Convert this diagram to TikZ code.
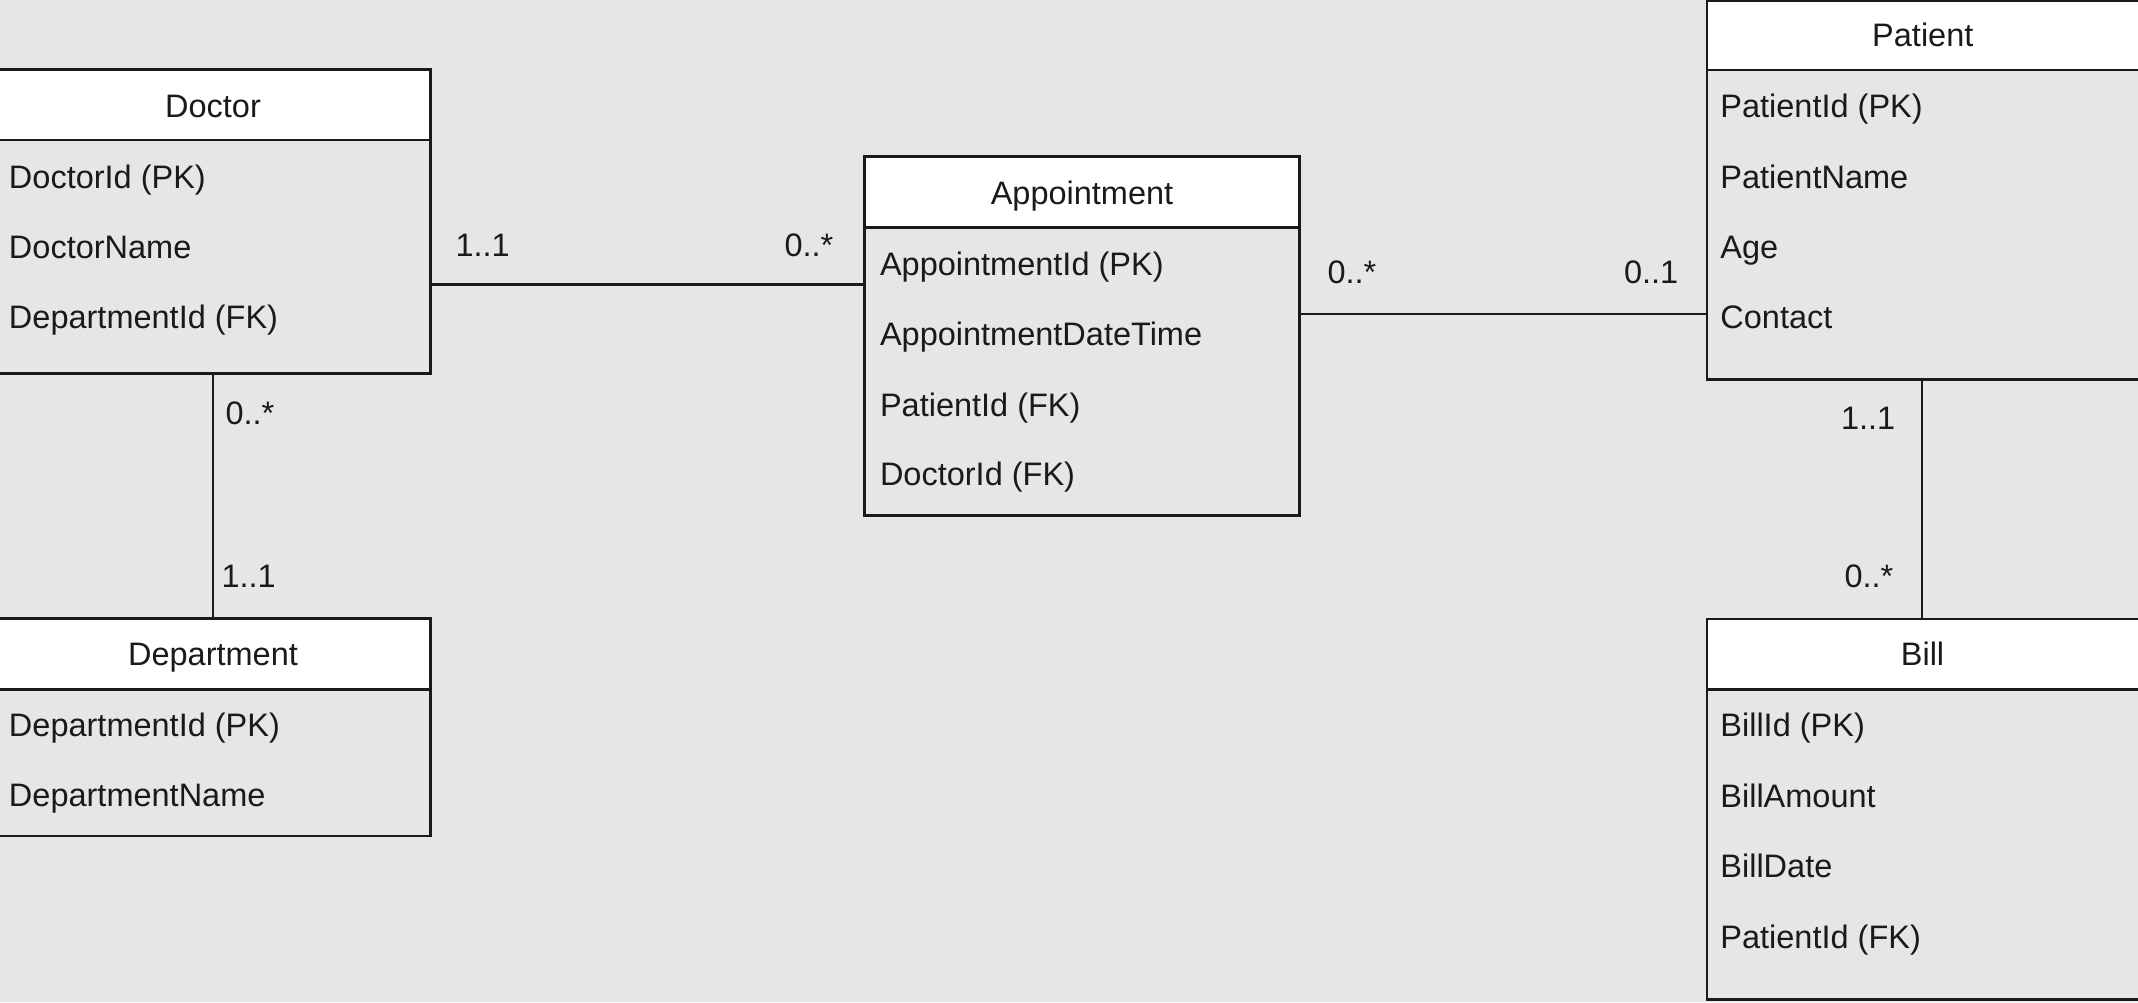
\documentclass[tikz,border=0pt]{standalone}
\usepackage{fontspec}
\setmainfont{Liberation Sans}
\definecolor{bg}{HTML}{E6E6E6}
\definecolor{ink}{HTML}{1A1A1A}
\begin{document}
\begin{tikzpicture}[x=1pt,y=-1pt,
  tbl/.style={draw=ink,line width=2.7pt,rectangle,inner sep=0pt,outer sep=0pt,anchor=north west,minimum width=435pt},
  hdr/.style={tbl,fill=white},
  txt/.style={inner sep=0pt,outer sep=0pt,anchor=base west,text=ink,font=\fontsize{32.5}{39}\selectfont},
  ttl/.style={txt,anchor=base},
  conn/.style={draw=ink,line width=2.7pt}]
\fill[bg] (0,0) rectangle (2138,1002);
\useasboundingbox (0,0) rectangle (2138,1002);

% Doctor
\node[tbl,minimum height=304pt] (doc) at (-4.5,69.3) {};
\node[hdr,minimum height=70.7pt] (docH) at (-4.5,69.3) {};
\node[ttl] (docT) at (213,117.5) {Doctor};
\node[txt] (doc1) at (9,188.3) {DoctorId (PK)};
\node[txt] (doc2) at (9,258.3) {DoctorName};
\node[txt] (doc3) at (9,328.3) {DepartmentId (FK)};

% Department
\node[tbl,minimum height=217.7pt] (dep) at (-4.5,618.3) {};
\node[hdr,minimum height=71pt] (depH) at (-4.5,618.3) {};
\node[ttl] (depT) at (213,665.7) {Department};
\node[txt] (dep1) at (9,736.7) {DepartmentId (PK)};
\node[txt] (dep2) at (9,806.7) {DepartmentName};

% Appointment
\node[tbl,minimum height=358.9pt] (ap) at (864.5,156.7) {};
\node[hdr,minimum height=71pt] (apH) at (864.5,156.7) {};
\node[ttl] (apT) at (1082,204) {Appointment};
\node[txt] (ap1) at (880,275) {AppointmentId (PK)};
\node[txt] (ap2) at (880,345) {AppointmentDateTime};
\node[txt] (ap3) at (880,416) {PatientId (FK)};
\node[txt] (ap4) at (880,485.7) {DoctorId (FK)};

% Patient
\node[tbl,minimum height=378.3pt] (pat) at (1707,1) {};
\node[hdr,minimum height=69pt] (patH) at (1707,1) {};
\node[ttl] (patT) at (1922.8,46.7) {Patient};
\node[txt] (pat1) at (1720.4,117.3) {PatientId (PK)};
\node[txt] (pat2) at (1720.4,188.3) {PatientName};
\node[txt] (pat3) at (1720.4,258.3) {Age};
\node[txt] (pat4) at (1720.4,328.3) {Contact};

% Bill
\node[tbl,minimum height=380.2pt] (bill) at (1707,619) {};
\node[hdr,minimum height=70.4pt] (billH) at (1707,619) {};
\node[ttl] (billT) at (1922.5,665.4) {Bill};
\node[txt] (bill1) at (1720.4,736.9) {BillId (PK)};
\node[txt] (bill2) at (1720.4,807.5) {BillAmount};
\node[txt] (bill3) at (1720.4,877.7) {BillDate};
\node[txt] (bill4) at (1720.4,948) {PatientId (FK)};

% connectors
\coordinate (ya) at (0,284.5);
\coordinate (yb) at (0,314);
\coordinate (xb) at (1922,0);
\draw[conn] (doc.east |- ya) -- (ap.west |- ya);
\draw[conn] (ap.east |- yb) -- (pat.west |- yb);
\draw[conn] (doc.south) -- (dep.north);
\draw[conn] (pat.south -| xb) -- (bill.north -| xb);

% multiplicities
\node[txt] (m1) at (455.5,256.7) {1..1};
\node[txt] (m2) at (784.5,256) {0..*};
\node[txt] (m3) at (1327.5,283.3) {0..*};
\node[txt] (m4) at (1624,283.3) {0..1};
\node[txt] (m5) at (225.5,424) {0..*};
\node[txt] (m6) at (221.5,587.3) {1..1};
\node[txt] (m7) at (1841,429.3) {1..1};
\node[txt] (m8) at (1844.5,587.3) {0..*};
\end{tikzpicture}
\end{document}
